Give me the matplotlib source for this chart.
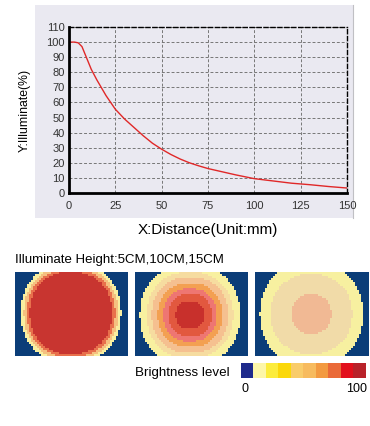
import matplotlib.pyplot as plt
import numpy as np
from matplotlib.colors import ListedColormap

plt.rcParams['font.family'] = ['Liberation Sans', 'DejaVu Sans']

# falloff curve
distance_mm = [0, 3, 5, 7, 10, 12, 15, 20, 25, 30, 35, 40, 45, 50, 55, 60, 65,
               70, 75, 80, 90, 100, 110, 120, 130, 140, 150]
illuminate_pct = [100, 100, 99.5, 97, 88, 82, 75, 64.5, 55.5, 49, 43.5, 38,
                  33, 29, 25.5, 22.5, 20, 18, 16.2, 14.8, 12, 9.5, 8, 6.5, 5.5,
                  4.3, 3.3]
x_ticks = [0, 25, 50, 75, 100, 125, 150]
y_ticks = list(range(0, 111, 10))

# spot maps: ring outer radii (px, outer -> inner) and ring colours
spot1_radii = [50, 47, 44, 41]
spot1_colors = ['#f8eea0', '#f5c080', '#e8704c', '#c83530']
spot2_radii = [50, 43, 38, 32, 26.5, 21.5, 14]
spot2_colors = ['#f8f0a0', '#f6dca0', '#f5c090', '#f3a052', '#ee7672',
                '#e2583f', '#c8302c']
spot3_radii = [51, 40, 20]
spot3_colors = ['#f7f0a0', '#f1dba8', '#f1b994']
spot_bg = '#0b3d78'

# brightness legend
level_colors = ['#1e2a8c', '#fdf6a8', '#fcec3c', '#fbd80a', '#f9cc6a',
                '#f7bb5e', '#f39a40', '#ea6a38', '#e2101c', '#b8222a']

W, H = 370, 426
fig = plt.figure(figsize=(W / 100, H / 100), dpi=100)


def box(x0, y0, x1, y1):
    # pixel box -> figure fraction rect
    return [x0 / W, 1 - y1 / H, (x1 - x0) / W, (y1 - y0) / H]


# marble-ish backdrop behind the chart
bg = fig.add_axes(box(35, 5, 353, 218))
bg.set_facecolor('#eae9f1')
bg.set_xticks([])
bg.set_yticks([])
for s in bg.spines.values():
    s.set_visible(False)
bg.spines['right'].set_visible(True)
bg.spines['right'].set_color('#c0c0c4')

ax = fig.add_axes(box(69, 27, 347, 193))
ax.set_facecolor('none')
ax.plot(distance_mm, illuminate_pct, color='#e02828', linewidth=1.0)
ax.set_xlim(0, 150)
ax.set_ylim(0, 110)
ax.set_xticks(x_ticks)
ax.set_yticks(y_ticks)
ax.grid(True, color='#777777', linestyle=(0, (3, 2)), linewidth=0.7)
ax.tick_params(labelsize=8, colors='#333333', length=0)
ax.tick_params(axis='x', pad=6)
ax.tick_params(axis='y', pad=3)
for s in ['left', 'bottom']:
    ax.spines[s].set_linewidth(2)
    ax.spines[s].set_color('black')
for s in ['top', 'right']:
    ax.spines[s].set_linestyle((0, (3, 2)))
    ax.spines[s].set_linewidth(1)
ax.set_xlabel('X:Distance(Unit:mm)', fontsize=11)
ax.set_ylabel('Y:Illuminate(%)', fontsize=8.8)
ax.yaxis.set_label_coords(-38 / 278, 0.5)
ax.xaxis.set_label_coords(0.5, -30 / 166)

fig.text(15 / W, 1 - 260 / H, 'Illuminate Height:5CM,10CM,15CM',
         fontsize=9.5, va='center', ha='left')

spots = [
    ((15, 272, 128, 356), (71, 313), spot1_radii, spot1_colors),
    ((135, 272, 248, 356), (190, 315), spot2_radii, spot2_colors),
    ((255, 272, 368, 356), (311, 314), spot3_radii, spot3_colors),
]
cell = 2.0
p = 2.2
for (x0, y0, x1, y1), (cx, cy), radii, colors in spots:
    sax = fig.add_axes(box(x0, y0, x1, y1))
    nx = int(round((x1 - x0) / cell))
    ny = int(round((y1 - y0) / cell))
    px = x0 + (np.arange(nx) + 0.5) * (x1 - x0) / nx
    py = y0 + (np.arange(ny) + 0.5) * (y1 - y0) / ny
    gx, gy = np.meshgrid(px, py)
    d = (np.abs(gx - cx) ** p + np.abs(gy - cy) ** p) ** (1 / p)
    level = np.zeros(d.shape, dtype=int)
    for i, r in enumerate(radii):
        level[d <= r] = i + 1
    cmap = ListedColormap([spot_bg] + colors)
    sax.imshow(level, cmap=cmap, vmin=-0.5, vmax=len(colors) + 0.5,
               interpolation='nearest', aspect='auto')
    sax.set_axis_off()

fig.text(135 / W, 1 - 373 / H, 'Brightness level', fontsize=9.6,
         va='center', ha='left')
lax = fig.add_axes(box(241, 363, 366, 378))
lax.imshow([list(range(len(level_colors)))], cmap=ListedColormap(level_colors),
           aspect='auto', interpolation='nearest')
lax.set_axis_off()
fig.text(245 / W, 1 - 389 / H, '0', fontsize=9, va='center', ha='center')
fig.text(367 / W, 1 - 389 / H, '100', fontsize=9, va='center', ha='right')

fig.savefig('out.png', dpi=100)
